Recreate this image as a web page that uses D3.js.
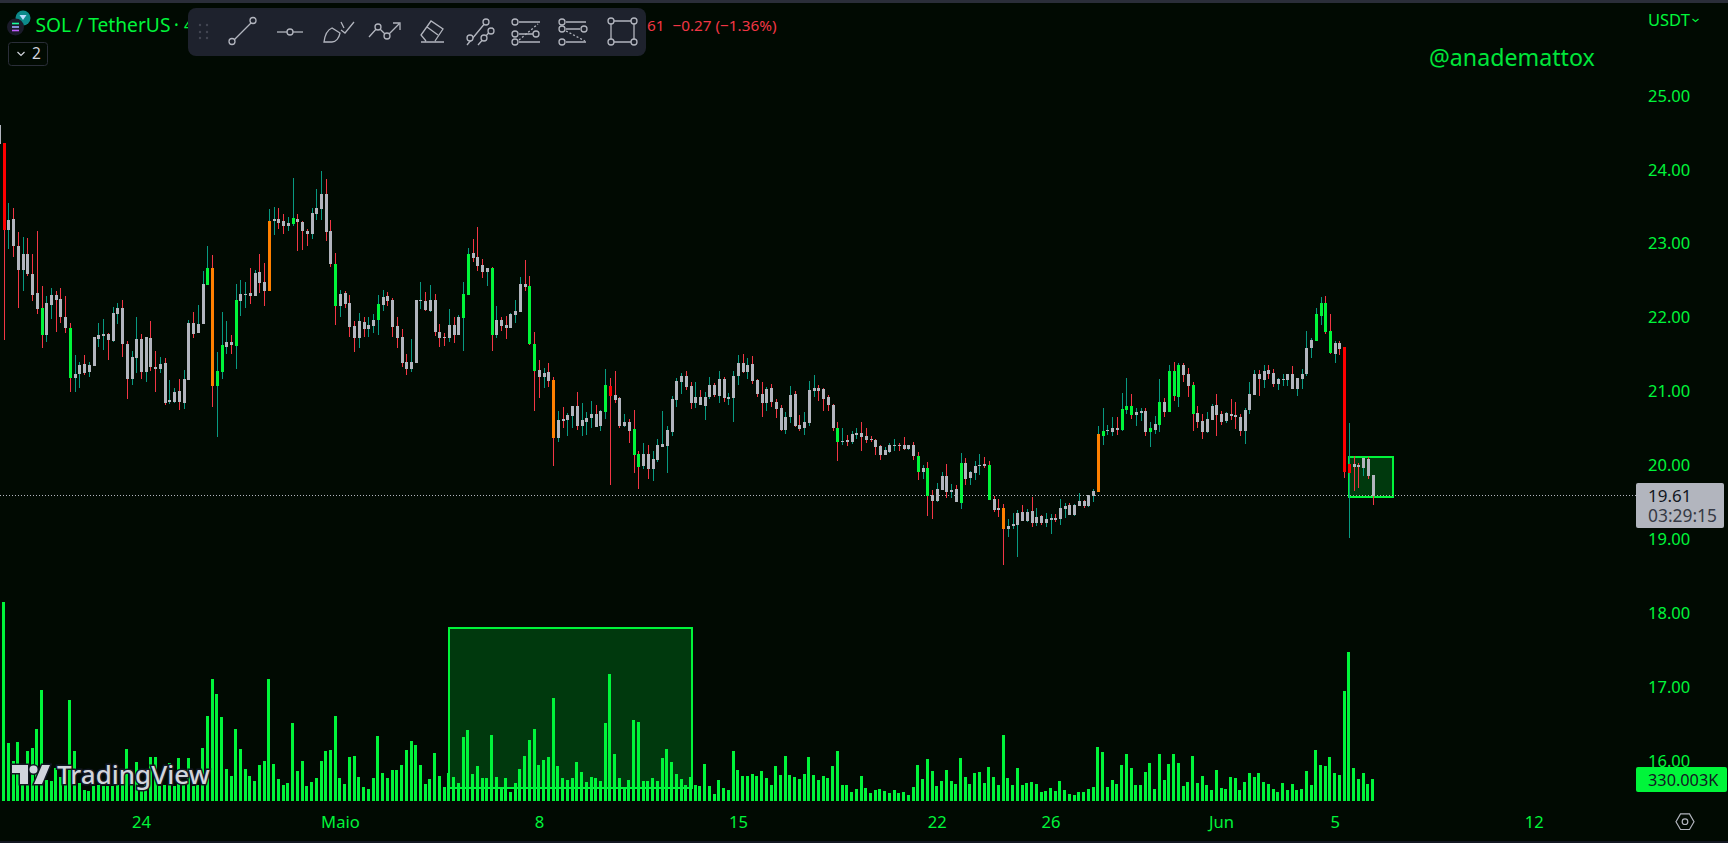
<!DOCTYPE html>
<html><head><meta charset="utf-8"><title>SOL / TetherUS</title>
<script src="https://cdn.jsdelivr.net/npm/d3@7/dist/d3.min.js"></script>
<style>html,body{margin:0;padding:0;background:#010a02;overflow:hidden}svg{display:block}text{font-family:"Noto Sans",sans-serif}</style>
</head><body><svg id="c" width="1728" height="843"></svg>
<script>
const bodyHigh=[24.61,24.36,23.32,23.34,22.97,22.86,22.86,22.59,22.33,22.13,22.20,22.31,22.31,22.25,22.01,21.86,21.24,21.36,21.37,21.36,21.74,21.77,21.78,21.78,22.06,22.13,22.13,21.64,21.47,21.71,21.71,21.74,21.72,21.33,21.37,21.39,20.89,20.99,21.01,21.17,21.93,21.93,21.91,22.46,22.67,22.67,21.28,21.63,21.67,21.67,22.24,22.32,22.32,22.33,22.60,22.62,22.48,23.31,23.34,23.34,23.31,23.28,23.35,23.34,23.29,23.17,23.42,23.48,23.67,23.67,23.17,22.73,22.32,22.33,22.20,21.89,21.96,21.94,21.90,21.97,22.18,22.28,22.29,22.24,21.89,21.74,21.40,21.40,22.24,22.24,22.23,22.24,22.24,21.81,
21.74,21.90,21.90,22.01,22.32,22.86,22.87,22.82,22.71,22.67,22.67,21.97,21.97,21.90,22.05,22.09,22.45,22.45,22.43,21.64,21.29,21.25,21.26,21.16,20.62,20.63,20.68,20.80,20.80,20.62,20.64,20.70,20.70,20.74,21.09,21.07,20.95,20.91,20.59,20.59,20.49,20.15,20.15,20.15,20.09,20.28,20.29,20.48,20.90,21.14,21.21,21.21,21.07,20.93,20.93,20.93,21.09,21.09,21.17,21.17,20.93,21.21,21.39,21.39,21.36,21.37,21.16,20.97,21.03,21.05,20.86,20.78,20.66,20.95,20.97,20.55,20.59,21.02,21.05,21.05,21.03,20.93,20.82,20.51,20.33,20.34,20.43,20.44,20.44,20.40,
20.36,20.34,20.26,20.21,20.28,20.28,20.28,20.28,20.28,20.28,20.13,19.96,19.96,19.60,19.68,19.86,19.86,19.67,19.68,20.03,20.03,19.91,19.99,20.01,20.02,20.01,19.55,19.42,19.42,19.18,19.21,19.36,19.37,19.37,19.38,19.30,19.32,19.27,19.29,19.29,19.42,19.45,19.46,19.46,19.52,19.52,19.60,19.65,20.43,20.47,20.48,20.51,20.51,20.76,20.80,20.80,20.72,20.74,20.74,20.51,20.56,20.86,20.86,21.28,21.28,21.36,21.36,21.24,21.09,20.71,20.60,20.63,20.80,20.82,20.70,20.71,20.70,20.68,20.65,20.75,20.97,21.24,21.24,21.28,21.29,21.25,21.17,21.17,21.24,21.24,
21.18,21.24,21.59,21.70,22.05,22.20,22.20,21.82,21.66,21.66,21.60,20.02,20.02,20.01,20.10,20.09,19.87];
const bodyLow=[24.35,23.19,23.19,22.97,22.65,22.65,22.59,22.31,22.12,21.77,21.77,22.17,22.24,22.01,21.86,21.18,21.18,21.24,21.25,21.26,21.35,21.71,21.75,21.70,21.68,22.05,21.64,21.17,21.17,21.45,21.26,21.26,21.33,21.31,21.31,20.85,20.86,20.86,20.86,20.85,21.16,21.78,21.79,21.91,22.44,21.08,21.08,21.26,21.60,21.63,21.62,22.23,22.31,22.29,22.29,22.47,22.36,22.36,23.31,23.28,23.24,23.24,23.27,23.29,23.17,23.13,23.13,23.40,23.47,23.16,22.73,22.16,22.16,22.18,21.87,21.72,21.72,21.85,21.85,21.89,21.97,22.17,22.23,21.87,21.72,21.39,21.31,21.31,21.39,22.23,22.10,22.09,21.81,21.72,
21.72,21.72,21.77,21.77,21.99,22.31,22.81,22.70,22.62,22.62,21.77,21.77,21.89,21.86,21.86,22.03,22.08,22.41,21.64,21.28,21.20,21.20,21.14,20.37,20.37,20.60,20.62,20.67,20.53,20.53,20.59,20.64,20.52,20.53,20.72,20.94,20.89,20.53,20.53,20.47,20.14,19.98,19.99,19.95,19.95,20.07,20.25,20.26,20.45,20.89,21.13,21.06,20.85,20.85,20.82,20.80,20.93,20.95,20.94,20.91,20.90,20.91,21.21,21.26,21.26,21.14,20.97,20.85,20.85,20.86,20.76,20.48,20.48,20.66,20.53,20.49,20.51,20.57,21.01,21.01,20.90,20.82,20.51,20.32,20.32,20.32,20.32,20.41,20.39,20.34,
20.34,20.25,20.14,20.14,20.18,20.26,20.26,20.22,20.22,20.13,19.91,19.91,19.59,19.52,19.52,19.67,19.64,19.64,19.50,19.49,19.82,19.83,19.90,19.99,19.99,19.53,19.40,19.40,19.14,19.14,19.18,19.19,19.25,19.25,19.22,19.22,19.22,19.22,19.26,19.26,19.27,19.41,19.33,19.33,19.45,19.45,19.45,19.59,19.64,20.40,20.47,20.45,20.48,20.48,20.75,20.68,20.68,20.71,20.45,20.45,20.48,20.55,20.72,20.72,20.94,20.93,21.22,21.07,20.70,20.59,20.45,20.45,20.61,20.68,20.59,20.60,20.67,20.65,20.47,20.47,20.75,20.95,21.17,21.16,21.24,21.10,21.10,21.16,21.16,21.03,
21.03,21.17,21.24,21.59,21.68,22.02,21.81,21.52,21.51,21.58,19.91,19.90,19.98,19.98,19.97,19.86,19.59];
const wickHigh=[24.61,24.36,23.55,23.48,23.16,23.09,23.08,22.86,23.17,22.43,22.29,22.40,22.36,22.40,22.29,21.93,21.50,21.40,21.50,21.40,21.74,21.93,21.98,21.79,22.14,22.20,22.24,21.68,21.55,22.01,21.78,21.74,21.95,21.55,21.47,21.45,21.16,21.05,21.17,21.29,21.97,22.08,22.17,22.63,22.97,22.85,21.54,22.08,21.95,21.77,22.46,22.51,22.48,22.67,22.65,22.86,22.74,23.47,23.50,23.48,23.40,23.36,23.89,23.40,23.31,23.20,23.48,23.74,23.98,23.88,23.32,22.87,22.37,22.36,22.31,21.95,22.06,22.01,22.01,22.05,22.31,22.37,22.35,22.27,22.01,21.85,21.51,21.71,22.24,22.48,22.35,22.44,22.32,21.91,
21.79,22.12,22.01,22.04,22.48,22.94,23.06,23.23,22.79,22.67,22.69,22.16,22.01,22.02,22.06,22.24,22.55,22.78,22.56,21.81,21.43,21.32,21.39,21.20,20.74,20.79,20.71,20.80,20.99,20.85,20.72,20.87,20.82,20.75,21.31,21.18,21.28,20.93,20.70,20.63,20.75,20.20,20.30,20.28,20.20,20.36,20.74,20.53,20.94,21.18,21.25,21.28,21.13,21.13,21.02,20.99,21.20,21.12,21.28,21.20,20.98,21.28,21.49,21.51,21.45,21.48,21.17,21.13,21.06,21.10,20.90,20.82,20.72,21.07,21.01,20.68,20.72,21.14,21.22,21.09,21.05,20.95,20.83,20.59,20.51,20.41,20.47,20.51,20.59,20.51,
20.40,20.36,20.28,20.25,20.30,20.36,20.30,20.38,20.28,20.32,20.18,20.01,20.05,19.67,19.76,19.91,20.02,19.75,19.73,20.17,20.10,19.92,20.06,20.15,20.11,20.06,19.59,19.55,19.48,19.27,19.36,19.40,19.46,19.41,19.57,19.42,19.33,19.36,19.34,19.34,19.55,19.49,19.49,19.48,19.63,19.53,19.60,19.68,20.53,20.78,20.55,20.65,20.65,20.98,21.18,20.97,20.78,20.78,20.78,20.59,20.67,21.17,20.91,21.36,21.40,21.39,21.39,21.32,21.13,20.80,20.70,20.72,20.83,20.97,20.74,20.72,20.90,20.86,20.70,20.78,21.13,21.29,21.29,21.36,21.36,21.30,21.18,21.24,21.24,21.34,
21.18,21.30,21.82,21.72,22.13,22.28,22.29,22.05,21.68,21.68,21.60,20.57,20.13,20.03,20.10,20.11,19.87];
const wickLow=[24.35,21.70,22.93,22.82,22.13,22.36,22.56,22.23,22.05,21.59,21.67,21.98,21.81,21.93,21.79,20.99,20.99,21.05,21.22,21.20,21.35,21.60,21.56,21.43,21.67,21.91,21.47,20.90,21.09,21.25,21.17,21.13,21.28,20.99,21.25,20.82,20.83,20.85,20.75,20.76,21.16,21.72,21.79,21.91,22.44,20.79,20.39,21.17,21.51,21.51,21.31,22.02,22.13,22.18,22.29,22.33,22.16,22.36,23.12,23.20,23.13,23.17,23.24,22.90,22.92,22.97,23.06,23.32,23.32,23.04,22.69,21.90,22.01,22.13,21.74,21.53,21.59,21.74,21.74,21.79,21.77,22.09,22.16,21.74,21.59,21.33,21.22,21.26,21.39,22.12,22.09,22.08,21.75,21.60,
21.62,21.67,21.66,21.77,21.55,22.31,22.75,22.63,22.54,22.43,21.55,21.72,21.82,21.71,21.86,21.93,22.08,22.36,21.63,20.74,20.91,21.05,21.06,19.99,20.32,20.51,20.40,20.51,20.48,20.40,20.41,20.51,20.52,20.47,20.63,19.74,20.85,20.51,20.52,20.30,19.90,19.68,19.95,19.82,19.79,20.05,20.25,19.90,20.40,20.79,20.97,21.02,20.76,20.78,20.82,20.62,20.90,20.93,20.85,20.86,20.82,20.59,21.09,21.25,21.17,21.10,20.93,20.66,20.74,20.79,20.64,20.47,20.43,20.57,20.52,20.47,20.41,20.53,20.93,20.87,20.74,20.74,20.47,20.06,20.28,20.26,20.29,20.36,20.20,20.30,
20.32,20.14,20.07,20.14,20.17,20.20,20.20,20.21,20.21,20.07,19.80,19.82,19.32,19.27,19.50,19.67,19.56,19.56,19.50,19.41,19.73,19.73,19.80,19.87,19.96,19.53,19.37,19.30,18.65,19.03,19.14,18.76,19.25,19.23,19.17,19.18,19.19,19.17,19.07,19.23,19.19,19.29,19.33,19.32,19.45,19.42,19.44,19.50,19.64,20.28,20.41,20.40,20.41,20.47,20.70,20.63,20.53,20.60,20.40,20.25,20.42,20.45,20.65,20.72,20.87,20.79,21.13,20.93,20.47,20.51,20.36,20.44,20.61,20.40,20.55,20.57,20.61,20.49,20.40,20.29,20.70,20.95,20.94,21.05,21.17,21.06,21.02,21.07,21.07,21.03,
20.94,21.03,21.21,21.45,21.68,21.90,21.78,21.51,21.39,21.49,19.83,19.02,19.65,19.69,19.86,19.82,19.47];
const directions="dduddudddd"+"uudddduudu"+"uuuduudduu"+"dudduduudu"+"uduuuduuud"+"uuududduud"+"duuddduuud"+"dduddduduu"+"uuddddduuu"+"dudd"
+"duduuudddu"+"dudduuuddd"+"dudduduudu"+"uuduudddud"+"dduduuuuuu"+"udduduudud"+"uuududddud"+"dduudduuud"+"dddduduudd"
+"ddduuuddud"+"dudduududu"+"duuudddddu"+"uudududuud"+"uuduuduuuu"+"uuduuduudu"+"uudududddd"+"duuddudddu"+"uududduuud"+"uuuuuuddud"+"duddudd";
const greenBodies=[9,15,44,46,47,50,62,71,80,98,99,104,112,113,128,134,135,177,194,196,203,209,233,237,238,239,243,245,247,248,249,252,278,279,280,281];
const orangeBodies=[45,57,117,212,232];
const redBodies=[1,129,284,285];
const volumesK=[0,2985,870,600,885,365,750,795,1080,1665,315,300,495,360,240,1515,750,265,165,150,225,240,225,225,225,240,240,780,240,585,215,240,660,660,225,240,565,225,645,240,645,225,240,795,1275,1830,1605,1260,480,375,1080,780,480,375,300,540,600,1830,555,330,240,270,1170,450,600,225,285,345,600,750,765,1275,345,255,660,675,360,210,180,345,975,420,345,465,465,540,765,900,840,540,255,330,720,375,
210,420,360,270,960,1065,405,525,345,345,990,360,195,345,135,270,480,675,915,1080,540,615,660,1545,525,345,315,345,585,435,285,360,345,300,1170,1905,705,345,195,315,1215,1185,300,300,345,300,645,780,585,405,330,240,360,240,225,555,225,105,315,195,165,750,465,375,375,405,375,450,345,240,525,390,675,390,360,330,405,660,390,315,375,345,525,750,240,240,135,180,375,195,120,
165,180,150,120,165,120,135,90,210,540,330,630,450,225,300,465,300,255,645,360,255,420,435,270,510,360,240,990,345,240,495,240,270,285,255,135,150,195,150,300,165,105,90,135,135,180,210,810,735,210,315,255,540,705,495,240,240,435,570,180,705,315,555,705,570,225,285,675,270,375,240,165,465,195,180,360,345,165,285,420,360,420,285,255,180,135,270,165,255,165,180,450,240,765,540,525,660,420,390,1650,2235,495,330,420,255,330];
const priceTicks=[16,17,18,19,20,21,22,23,24,25];
const tickDates=["2023-04-24","2023-05-01","2023-05-08","2023-05-15","2023-05-22","2023-05-26","2023-06-01","2023-06-05","2023-06-12"];
const tickLabels=["24","Maio","8","15","22","26","Jun","5","12"];
const lastPrice=19.595;
const lastPriceLabel="19.61", countdownLabel="03:29:15", lastVolumeLabel="330.003K";
const volumeBoxPrices=[17.796,15.63], volumeBoxBars=[94.66,146.0];
const priceBoxPrices=[20.11,19.57], priceBoxBars=[284.6,294.0];
const n=bodyHigh.length;
[bodyLow,wickHigh,wickLow,volumesK].forEach(a=>{if(a.length!==n)throw new Error("length "+a.length+" vs "+n)});
if(directions.length!==n)throw new Error("dirs "+directions.length);

const GREEN="#00f53a",GREY="#b2b5be",TEAL="#089981",WICKRED="#f23645";
const svg=d3.select("#c");
const t0=Date.UTC(2023,3,19),H4=4*3600*1000,STEP=4.737;
const dateOf=i=>new Date(t0+i*H4);
const x=d3.scaleUtc().domain([dateOf(0),dateOf(300)]).range([-0.1,-0.1+300*STEP]);
const y=d3.scaleLinear().domain([16,25]).range([761,95.9]);
const yVol=d3.scaleLinear().domain([0,1000]).range([801,801-1000/15]);
const bodyColor=i=>greenBodies.includes(i)?GREEN:orangeBodies.includes(i)?"#ff8000":redBodies.includes(i)?"#ff0000":GREY;

svg.append("rect").attr("width",1728).attr("height",843).attr("fill","#010a02");
svg.append("rect").attr("width",1728).attr("height",3).attr("fill","#2a2e39");
svg.append("rect").attr("y",841).attr("width",1728).attr("height",2).attr("fill","#131722");

// drawn boxes
[[volumeBoxPrices,volumeBoxBars],[priceBoxPrices,priceBoxBars]].forEach(([p,b])=>{
  const xa=Math.round(x(dateOf(b[0])))+1,xb=Math.round(x(dateOf(b[1]))),ya=Math.round(y(p[0])),yb=Math.round(y(p[1]));
  svg.append("rect").attr("x",xa).attr("y",ya).attr("width",xb-xa).attr("height",yb-ya).attr("shape-rendering","crispEdges")
    .attr("fill","rgba(0,245,58,0.2)").attr("stroke",GREEN).attr("stroke-width",2);
});

// last price line
svg.append("line").attr("x1",0).attr("x2",1636).attr("y1",Math.round(y(lastPrice))+.5).attr("y2",Math.round(y(lastPrice))+.5)
  .attr("stroke",GREY).attr("stroke-dasharray","1 2");

// volume
const idx=d3.range(n);
svg.append("g").attr("shape-rendering","crispEdges").selectAll("rect").data(idx).join("rect")
  .attr("x",i=>Math.floor(x(dateOf(i))-2)).attr("width",3)
  .attr("y",i=>Math.round(yVol(volumesK[i]))).attr("height",i=>801-Math.round(yVol(volumesK[i])))
  .attr("fill",GREEN);

// candles
const left=i=>Math.floor(x(dateOf(i))-1.5);
const gc=svg.append("g").attr("shape-rendering","crispEdges");
gc.append("g").selectAll("rect").data(idx).join("rect")
  .attr("x",i=>left(i)+1).attr("width",1)
  .attr("y",i=>Math.round(y(wickHigh[i]))).attr("height",i=>Math.max(1,Math.round(y(wickLow[i]))-Math.round(y(wickHigh[i]))))
  .attr("fill",i=>directions[i]==="u"?TEAL:WICKRED);
gc.append("g").selectAll("rect").data(idx).join("rect")
  .attr("x",left).attr("width",3)
  .attr("y",i=>Math.round(y(bodyHigh[i]))).attr("height",i=>Math.max(1,Math.round(y(bodyLow[i]))-Math.round(y(bodyHigh[i]))))
  .attr("fill",bodyColor);

// axes
const yAxis=svg.append("g").attr("transform","translate(1648,0)")
  .call(d3.axisRight(y).tickValues(priceTicks).tickFormat(d3.format(".2f")).tickSize(0).tickPadding(0));
yAxis.select(".domain").remove();
yAxis.selectAll("text").attr("fill",GREEN).attr("font-size",16.5).attr("font-family",'"Noto Sans",sans-serif').attr("text-anchor","start");
const xAxis=svg.append("g").attr("transform","translate(-1,822)")
  .call(d3.axisBottom(x).tickValues(tickDates.map(d=>new Date(d+"T00:00:00Z"))).tickFormat((d,i)=>tickLabels[i]).tickSize(0).tickPadding(0));
xAxis.select(".domain").remove();
xAxis.selectAll("text").attr("fill",GREEN).attr("font-size",16.6).attr("font-family",'"Noto Sans",sans-serif').attr("y",0).attr("dy","0.35em");

const T=(s,xp,yp,size,fill,extra={})=>{const t=svg.append("text").attr("x",xp).attr("y",yp).attr("dy","0.35em").attr("font-size",size).attr("fill",fill).text(s);
  Object.entries(extra).forEach(([k,v])=>t.attr(k,v));return t;};

// last price + volume tags
svg.append("rect").attr("x",1636).attr("y",483).attr("width",88).attr("height",45).attr("rx",2).attr("fill",GREY);
T(lastPriceLabel,1648,496,17,"#131722");
T(countdownLabel,1648,516,17.4,"#363a45");
svg.append("rect").attr("x",1636).attr("y",767).attr("width",91).attr("height",25).attr("rx",2).attr("fill",GREEN);
T(lastVolumeLabel,1648,780,16.3,"#131722");

// top labels
T("@anademattox",1429,58,23.2,"#00e63a",{"font-family":'"DejaVu Sans",sans-serif'});
T("USDT",1648,20,16.5,GREEN);
svg.append("path").attr("d","M1692.5 19l3 2.5 3-2.5").attr("fill","none").attr("stroke",GREEN).attr("stroke-width",1.3);

// legend row
svg.append("circle").attr("cx",23).attr("cy",18).attr("r",7.5).attr("fill","#0d8a8a");
svg.append("path").attr("d","M19.5 15h7l-3.5 5z").attr("fill","#bdf");
svg.append("circle").attr("cx",15.5).attr("cy",27).attr("r",8.5).attr("fill","#1b1b2a");
[[23.5,"#19fb9b"],[27,"#9fa8ff"],[30.5,"#c060ff"]].forEach(([yy,c])=>svg.append("rect").attr("x",12).attr("y",yy-.8).attr("width",7).attr("height",1.6).attr("fill",c));
T("SOL / TetherUS",35.5,25,19.2,GREEN);
T("•",174.5,25,10,GREEN);
T("4",184,25,16,GREEN);
T("61  −0.27 (−1.36%)",647,26,15.3,WICKRED,{"xml:space":"preserve",style:"white-space:pre"});

// indicator collapse button
svg.append("rect").attr("x",8.5).attr("y",42.5).attr("width",39).attr("height",23).attr("rx",3).attr("fill","none").attr("stroke","#2a2e39");
svg.append("path").attr("d","M17.5 52l3.5 3.5 3.5-3.5").attr("fill","none").attr("stroke","#d1d4dc").attr("stroke-width",1.2);
T("2",32,54,15.5,"#d1d4dc");

// drawing toolbar
const tb=svg.append("g");
tb.append("rect").attr("x",188).attr("y",8).attr("width",458).attr("height",48).attr("rx",8).attr("fill","#1e222d");
[200,207].forEach(a=>[25,32,38].forEach(b=>tb.append("circle").attr("cx",a).attr("cy",b).attr("r",1.2).attr("fill","#434651")));
const ic=tb.append("g").attr("fill","none").attr("stroke","#b2b5be").attr("stroke-width",1.3);
const P=d=>ic.append("path").attr("d",d);
const C=(a,b,r=3)=>ic.append("circle").attr("cx",a).attr("cy",b).attr("r",r).attr("fill","#1e222d");
P("M232 42L253 21");C(232,41.5);C(253,20.5);
P("M277 32H303");C(290,32);
P("M324 42c1-8 3-12 8-14l8 5c-1 5-4 9-8 9zM341 30l4 3 9-11M341 22l3 6");
P("M369 37l9-10 9 9 12-12M393 23h7v7");C(378,27);C(387,36);
P("M421 42h23M426 41l-5-6 10-14 12 8-8 12M427 27l11 8");
P("M467 45l19-23M478 45l15-17");C(470,38);C(486,22);C(484,38);C(491,31);
P("M519 22h21M519 34h14M519 42h21");P("M519 40l19-16").attr("stroke-dasharray","2 2");C(515,22);C(515,34);C(536,34);C(515,42);
P("M566 22h20M566 29h14M566 42h20");P("M566 31l19 10").attr("stroke-dasharray","2 2");C(562,22);C(562,29);C(584,29);C(562,42);
P("M612 21h21M612 42h21M611 21v21M634 21v21");[[611,21],[634,21],[611,42],[634,42]].forEach(([a,b])=>C(a,b));

// settings gear
svg.append("path").attr("d",d3.line()(d3.range(6).map(k=>[1685+9*Math.cos(k*Math.PI/3),821.7+9*Math.sin(k*Math.PI/3)]))+"Z").attr("fill","none").attr("stroke","#b2b5be").attr("stroke-width",1.2);
svg.append("circle").attr("cx",1685).attr("cy",821.7).attr("r",2.8).attr("fill","none").attr("stroke","#b2b5be").attr("stroke-width",1.2);

// watermark
const wm=svg.append("g").attr("fill","#d1d4dc").attr("stroke","#131722").attr("stroke-width",3).attr("paint-order","stroke");
wm.append("path").attr("d","M12 765h16v19h-8v-11h-8zM42 765h8l-8 19h-8z");
wm.append("circle").attr("cx",33.5).attr("cy",769.5).attr("r",4);
wm.append("text").attr("x",57).attr("y",775).attr("dy","0.36em").attr("font-size",26).attr("font-family","Roboto,sans-serif").attr("font-weight",500).text("TradingView");
</script></body></html>
